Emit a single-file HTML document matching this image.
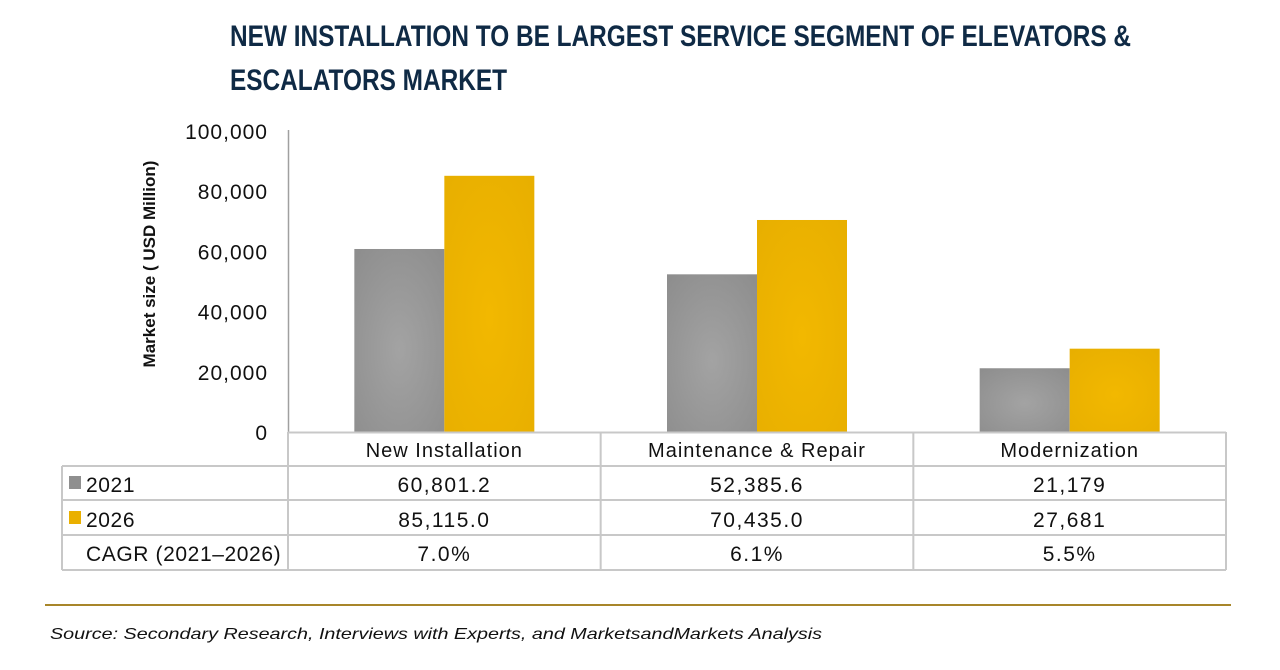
<!DOCTYPE html>
<html><head><meta charset="utf-8"><style>
body{margin:0;background:#fff;}
svg{display:block;font-family:"Liberation Sans",sans-serif;}
</style></head><body>
<svg id="chart" width="1280" height="670" viewBox="0 0 1280 670">
<defs>
<radialGradient id="gGray" cx="0.5" cy="0.55" r="0.7"><stop offset="0" stop-color="#a3a3a3"/><stop offset="1" stop-color="#8e8e8e"/></radialGradient>
<radialGradient id="gGold" cx="0.5" cy="0.55" r="0.7"><stop offset="0" stop-color="#f2b800"/><stop offset="1" stop-color="#e8af00"/></radialGradient>
</defs>
<text x="230" y="46" font-size="30" font-weight="bold" fill="#0f2a45" textLength="901" lengthAdjust="spacingAndGlyphs">NEW INSTALLATION TO BE LARGEST SERVICE SEGMENT OF ELEVATORS &amp;</text>
<text x="230" y="90" font-size="30" font-weight="bold" fill="#0f2a45" textLength="277" lengthAdjust="spacingAndGlyphs">ESCALATORS MARKET</text>
<text transform="translate(155,264) rotate(-90)" text-anchor="middle" font-size="17" font-weight="bold" fill="#111">Market size ( USD Million)</text>
<g id="yticks"></g>
<line x1="288.5" y1="130" x2="288.5" y2="432" stroke="#a0a0a0" stroke-width="1.5"/>
<g id="bars"></g>
<g id="table"></g>
<line x1="45" y1="605" x2="1231" y2="605" stroke="#a8862a" stroke-width="2"/>
<text x="50" y="639" font-size="16" font-style="italic" fill="#111" textLength="772" lengthAdjust="spacingAndGlyphs">Source: Secondary Research, Interviews with Experts, and MarketsandMarkets Analysis</text>
</svg>
<script>
const categories = ["New Installation", "Maintenance & Repair", "Modernization"];
const values2021 = [60801.2, 52385.6, 21179];
const values2026 = [85115.0, 70435.0, 27681];
const labels2021 = ["60,801.2", "52,385.6", "21,179"];
const labels2026 = ["85,115.0", "70,435.0", "27,681"];
const cagrLabels = ["7.0%", "6.1%", "5.5%"];
const yTicks = [0, 20000, 40000, 60000, 80000, 100000];

const NS = "http://www.w3.org/2000/svg";
const x0 = 288, x1 = 1226, yBase = 432, yTop = 131, yMax = 100000;
const catW = (x1 - x0) / categories.length;
const barW = 90;
const y = v => yBase - (v / yMax) * (yBase - yTop);
function mk(tag, attrs, parent, text) {
  const e = document.createElementNS(NS, tag);
  for (const k in attrs) e.setAttribute(k, attrs[k]);
  if (text !== undefined) e.textContent = text;
  parent.appendChild(e);
  return e;
}
const yt = document.getElementById("yticks");
yTicks.forEach(t => {
  const e = mk("text", {x: 268, y: y(t) + 8, "text-anchor": "end", "font-size": 21, "letter-spacing": 1, fill: "#111"}, yt, t.toLocaleString("en-US"));
  
  
});
const bars = document.getElementById("bars");
categories.forEach((c, i) => {
  const cx = x0 + catW * (i + 0.5);
  const b1 = mk("rect", {x: cx - barW, y: y(values2021[i]), width: barW, height: yBase - y(values2021[i]), fill: "url(#gGray)"}, bars);
  
  
  const b2 = mk("rect", {x: cx, y: y(values2026[i]), width: barW, height: yBase - y(values2026[i]), fill: "url(#gGold)"}, bars);
  
  
});
const tb = document.getElementById("table");
const stroke = "#c8c8c8";
mk("line", {x1: x0, y1: 432.5, x2: x1, y2: 432.5, stroke: stroke, "stroke-width": 2}, tb);
[466, 500, 535, 570].forEach(r => mk("line", {x1: 62, y1: r, x2: x1, y2: r, stroke: stroke, "stroke-width": 2}, tb));
mk("line", {x1: 62, y1: 466, x2: 62, y2: 570, stroke: stroke, "stroke-width": 2}, tb);
for (let i = 0; i <= categories.length; i++) {
  const xx = x0 + catW * i;
  mk("line", {x1: xx, y1: 432, x2: xx, y2: 570, stroke: stroke, "stroke-width": 2}, tb);
}
const sw1 = mk("rect", {x: 69, y: 476, width: 12, height: 13, fill: "#8f8f8f"}, tb);


const sw2 = mk("rect", {x: 69, y: 511, width: 12, height: 13, fill: "#eab000"}, tb);


const rl = [["2021", 86, 492], ["2026", 86, 527], ["CAGR (2021–2026)", 86, 561]];
rl.forEach(r => {
  const e = mk("text", {x: r[1], y: r[2], "font-size": 21, "letter-spacing": 0.6, fill: "#111"}, tb, r[0]);
  
  
});
categories.forEach((c, i) => {
  const cx = x0 + catW * (i + 0.5);
  const h = mk("text", {x: cx, y: 457, "text-anchor": "middle", "font-size": 20, "letter-spacing": 1, fill: "#111"}, tb, c);
  
  
  [[labels2021[i], 492], [labels2026[i], 527], [cagrLabels[i], 561]].forEach(v => {
    const e = mk("text", {x: cx, y: v[1], "text-anchor": "middle", "font-size": 21, "letter-spacing": 1.5, fill: "#111"}, tb, v[0]);
    
    
  });
});
</script>
</body></html>
